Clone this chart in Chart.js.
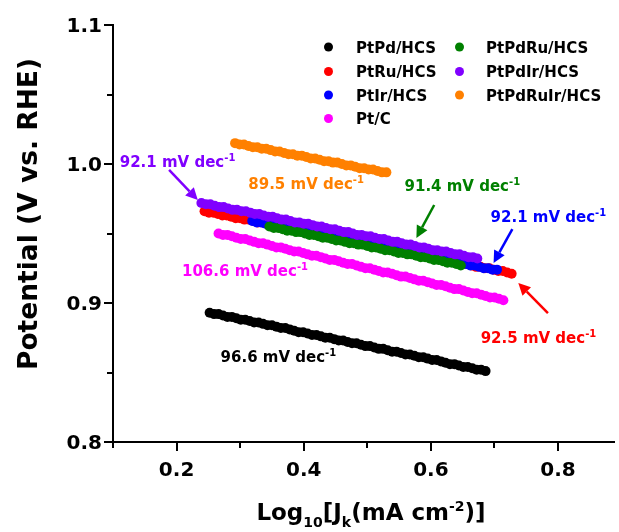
<!DOCTYPE html>
<html>
<head>
<meta charset="utf-8">
<title>Tafel plots</title>
<script src="https://cdn.jsdelivr.net/npm/chart.js@4.4.1/dist/chart.umd.min.js"></script>
<style>
  html, body { margin: 0; padding: 0; background: #fff; overflow: hidden; }
  canvas { display: block; }
</style>
</head>
<body>
<canvas id="tafel" width="619" height="532"></canvas>
<script>
// Tafel regions: log10 of kinetic current density vs. potential (V vs. RHE)
const seriesNames = ['PtPd/HCS', 'PtRu/HCS', 'PtIr/HCS', 'Pt/C', 'PtPdRu/HCS', 'PtPdIr/HCS', 'PtPdRuIr/HCS'];
const tafelSlopes = [96.6, 92.5, 92.1, 106.6, 91.4, 92.1, 89.5]; // mV dec-1

const xTickValues = [0.1, 0.2, 0.3, 0.4, 0.5, 0.6, 0.7, 0.8];
const xTickLabels = ['', '0.2', '', '0.4', '', '0.6', '', '0.8'];
const yTickValues = [0.8, 0.85, 0.9, 0.95, 1.0, 1.05, 1.1];
const yTickLabels = ['0.8', '', '0.9', '', '1.0', '', '1.1'];

const ptpdX = [0.252,0.259,0.266,0.273,0.280,0.287,0.294,0.301,0.308,0.315,0.322,0.329,0.336,0.343,0.350,0.357,0.364,0.371,0.378,0.385,0.392,0.399,0.406,0.413,0.420,0.427,0.434,0.441,0.448,0.455,0.462,0.469,0.476,0.483,0.490,0.497,0.504,0.511,0.518,0.525,0.532,0.539,0.546,0.553,0.560,0.567,0.574,0.581,0.588,0.595,0.602,0.609,0.616,0.623,0.630,0.637,0.644,0.651,0.658,0.665,0.672,0.679,0.686];
const ptpdY = [0.893,0.892,0.892,0.891,0.890,0.890,0.889,0.888,0.888,0.887,0.886,0.886,0.885,0.884,0.884,0.883,0.882,0.882,0.881,0.880,0.879,0.879,0.878,0.877,0.877,0.876,0.875,0.875,0.874,0.873,0.873,0.872,0.871,0.871,0.870,0.869,0.869,0.868,0.867,0.867,0.866,0.865,0.865,0.864,0.863,0.863,0.862,0.861,0.861,0.860,0.859,0.859,0.858,0.857,0.856,0.856,0.855,0.854,0.854,0.853,0.852,0.852,0.851];

const ptruX = [0.244,0.251,0.258,0.265,0.272,0.279,0.286,0.293,0.300,0.307,0.314,0.321,0.328,0.335,0.342,0.349,0.356,0.363,0.370,0.377,0.384,0.391,0.398,0.405,0.412,0.419,0.426,0.433,0.440,0.447,0.454,0.461,0.468,0.475,0.482,0.489,0.496,0.503,0.510,0.517,0.524,0.531,0.538,0.545,0.552,0.559,0.566,0.573,0.580,0.587,0.594,0.601,0.608,0.615,0.622,0.629,0.636,0.643,0.650,0.657,0.664,0.671,0.678,0.685,0.692,0.699,0.706,0.713,0.720,0.727];
const ptruY = [0.966,0.965,0.965,0.964,0.963,0.963,0.962,0.961,0.961,0.960,0.960,0.959,0.958,0.958,0.957,0.956,0.956,0.955,0.954,0.954,0.953,0.952,0.952,0.951,0.950,0.950,0.949,0.949,0.948,0.947,0.947,0.946,0.945,0.945,0.944,0.943,0.943,0.942,0.941,0.941,0.940,0.939,0.939,0.938,0.938,0.937,0.936,0.936,0.935,0.934,0.934,0.933,0.932,0.932,0.931,0.930,0.930,0.929,0.928,0.928,0.927,0.926,0.926,0.925,0.925,0.924,0.923,0.923,0.922,0.921];

const ptirX = [0.319,0.326,0.333,0.340,0.347,0.354,0.361,0.368,0.375,0.382,0.389,0.396,0.403,0.410,0.417,0.424,0.431,0.438,0.445,0.452,0.459,0.466,0.473,0.480,0.487,0.494,0.501,0.508,0.515,0.522,0.529,0.536,0.543,0.550,0.557,0.564,0.571,0.578,0.585,0.592,0.599,0.606,0.613,0.620,0.627,0.634,0.641,0.648,0.655,0.662,0.669,0.676,0.683,0.690,0.697,0.704];
const ptirY = [0.959,0.958,0.958,0.957,0.956,0.956,0.955,0.954,0.954,0.953,0.953,0.952,0.951,0.951,0.950,0.949,0.949,0.948,0.947,0.947,0.946,0.945,0.945,0.944,0.944,0.943,0.942,0.942,0.941,0.940,0.940,0.939,0.938,0.938,0.937,0.936,0.936,0.935,0.935,0.934,0.933,0.933,0.932,0.931,0.931,0.930,0.929,0.929,0.928,0.927,0.927,0.926,0.925,0.925,0.924,0.924];

const ptcX = [0.266,0.273,0.280,0.287,0.294,0.301,0.308,0.315,0.322,0.329,0.336,0.343,0.350,0.357,0.364,0.371,0.378,0.385,0.392,0.399,0.406,0.413,0.420,0.427,0.434,0.441,0.448,0.455,0.462,0.469,0.476,0.483,0.490,0.497,0.504,0.511,0.518,0.525,0.532,0.539,0.546,0.553,0.560,0.567,0.574,0.581,0.588,0.595,0.602,0.609,0.616,0.623,0.630,0.637,0.644,0.651,0.658,0.665,0.672,0.679,0.686,0.693,0.700,0.707,0.714];
const ptcY = [0.950,0.949,0.949,0.948,0.947,0.946,0.946,0.945,0.944,0.943,0.943,0.942,0.941,0.940,0.940,0.939,0.938,0.937,0.937,0.936,0.935,0.934,0.934,0.933,0.932,0.931,0.931,0.930,0.929,0.928,0.928,0.927,0.926,0.925,0.925,0.924,0.923,0.922,0.922,0.921,0.920,0.919,0.919,0.918,0.917,0.916,0.916,0.915,0.914,0.913,0.913,0.912,0.911,0.910,0.910,0.909,0.908,0.907,0.907,0.906,0.905,0.904,0.904,0.903,0.902];

const ptpdruX = [0.346,0.353,0.360,0.367,0.374,0.381,0.388,0.395,0.402,0.409,0.416,0.423,0.430,0.437,0.444,0.451,0.458,0.465,0.472,0.479,0.486,0.493,0.500,0.507,0.514,0.521,0.528,0.535,0.542,0.549,0.556,0.563,0.570,0.577,0.584,0.591,0.598,0.605,0.612,0.619,0.626,0.633,0.640,0.647];
const ptpdruY = [0.955,0.954,0.954,0.953,0.952,0.952,0.951,0.951,0.950,0.949,0.949,0.948,0.947,0.947,0.946,0.945,0.945,0.944,0.943,0.943,0.942,0.942,0.941,0.940,0.940,0.939,0.938,0.938,0.937,0.936,0.936,0.935,0.935,0.934,0.933,0.933,0.932,0.931,0.931,0.930,0.929,0.929,0.928,0.927];

const ptpdirX = [0.239,0.246,0.253,0.260,0.267,0.274,0.281,0.288,0.295,0.302,0.309,0.316,0.323,0.330,0.337,0.344,0.351,0.358,0.365,0.372,0.379,0.386,0.393,0.400,0.407,0.414,0.421,0.428,0.435,0.442,0.449,0.456,0.463,0.470,0.477,0.484,0.491,0.498,0.505,0.512,0.519,0.526,0.533,0.540,0.547,0.554,0.561,0.568,0.575,0.582,0.589,0.596,0.603,0.610,0.617,0.624,0.631,0.638,0.645,0.652,0.659,0.666,0.673];
const ptpdirY = [0.972,0.971,0.971,0.970,0.969,0.969,0.968,0.967,0.967,0.966,0.966,0.965,0.964,0.964,0.963,0.962,0.962,0.961,0.960,0.960,0.959,0.958,0.958,0.957,0.957,0.956,0.955,0.955,0.954,0.953,0.953,0.952,0.951,0.951,0.950,0.949,0.949,0.948,0.948,0.947,0.946,0.946,0.945,0.944,0.944,0.943,0.942,0.942,0.941,0.940,0.940,0.939,0.938,0.938,0.937,0.937,0.936,0.935,0.935,0.934,0.933,0.933,0.932];

const ptpdruirX = [0.292,0.299,0.306,0.313,0.320,0.327,0.334,0.341,0.348,0.355,0.362,0.369,0.376,0.383,0.390,0.397,0.404,0.411,0.418,0.425,0.432,0.439,0.446,0.453,0.460,0.467,0.474,0.481,0.488,0.495,0.502,0.509,0.516,0.523,0.530];
const ptpdruirY = [1.015,1.014,1.014,1.013,1.012,1.012,1.011,1.011,1.010,1.009,1.009,1.008,1.007,1.007,1.006,1.006,1.005,1.004,1.004,1.003,1.002,1.002,1.001,1.001,1.000,0.999,0.999,0.998,0.997,0.997,0.996,0.996,0.995,0.994,0.994];

const seriesX = [ptpdX, ptruX, ptirX, ptcX, ptpdruX, ptpdirX, ptpdruirX];
const seriesY = [ptpdY, ptruY, ptirY, ptcY, ptpdruY, ptpdirY, ptpdruirY];

// ---- styling ----
const seriesColors = ['#000000', '#ff0000', '#0000ff', '#ff00ff', '#008000', '#8000ff', '#ff8000'];
const drawLayer = [0, 4, 3, 0, 2, 1, 0];   // higher layer is painted first (underneath)
const FAMILY = '"DejaVu Sans", "Liberation Sans", sans-serif';
const font = size => `bold ${size}px ${FAMILY}`;

// slope labels: anchor (left, baseline) in data units, optional arrow tail -> head in data units
const slopeNotes = [
  { series: 5, at: [0.1106, 0.9982], arrow: [[0.1882, 0.9957], [0.2334, 0.9741]] },
  { series: 6, at: [0.3128, 0.9817] },
  { series: 4, at: [0.5585, 0.9809], arrow: [[0.6052, 0.9705], [0.5772, 0.9468]] },
  { series: 2, at: [0.6939, 0.9586], arrow: [[0.7281, 0.9532], [0.6986, 0.9288]] },
  { series: 1, at: [0.6783, 0.8709], arrow: [[0.7841, 0.8928], [0.7375, 0.9144]] },
  { series: 3, at: [0.2085, 0.9191] },
  { series: 0, at: [0.2692, 0.8579] }
];

// legend layout (pixels): two columns
const legendLayout = {
  col1: { dotX: 328.5, textX: 356, rows: [47, 71.5, 95, 118.5] },
  col2: { dotX: 459.5, textX: 486, rows: [47, 71.5, 95] }
};

function drawRuns(ctx, runs, x, y) {
  ctx.textAlign = 'left';
  ctx.textBaseline = 'alphabetic';
  let cx = x;
  runs.forEach(r => {
    ctx.font = font(r.size);
    ctx.fillText(r.text, cx, y + (r.shift || 0));
    cx += ctx.measureText(r.text).width;
  });
  return cx - x;
}

function runsWidth(ctx, runs) {
  let w = 0;
  runs.forEach(r => { ctx.font = font(r.size); w += ctx.measureText(r.text).width; });
  return w;
}

function drawArrow(ctx, x1, y1, x2, y2, color) {
  const ang = Math.atan2(y2 - y1, x2 - x1);
  const hl = 12, hw = 6;
  const bx = x2 - hl * Math.cos(ang), by = y2 - hl * Math.sin(ang);
  ctx.strokeStyle = color;
  ctx.lineWidth = 2.5;
  ctx.beginPath();
  ctx.moveTo(x1, y1);
  ctx.lineTo(bx, by);
  ctx.stroke();
  ctx.fillStyle = color;
  ctx.beginPath();
  ctx.moveTo(x2, y2);
  ctx.lineTo(bx + hw * Math.sin(ang), by - hw * Math.cos(ang));
  ctx.lineTo(bx - hw * Math.sin(ang), by + hw * Math.cos(ang));
  ctx.closePath();
  ctx.fill();
}

const decorations = {
  id: 'decorations',
  afterDraw(chart) {
    const { ctx, chartArea: a, scales: { x, y } } = chart;
    ctx.save();

    // outward tick marks, long for labelled ticks
    ctx.strokeStyle = '#000';
    ctx.lineWidth = 2;
    xTickValues.forEach((v, i) => {
      const px = Math.round(x.getPixelForValue(v));
      const len = xTickLabels[i] ? 9 : 6;
      ctx.beginPath();
      ctx.moveTo(px, a.bottom);
      ctx.lineTo(px, a.bottom + len);
      ctx.stroke();
    });
    yTickValues.forEach((v, i) => {
      const py = Math.round(y.getPixelForValue(v));
      const len = yTickLabels[i] ? 9 : 6;
      ctx.beginPath();
      ctx.moveTo(a.left, py);
      ctx.lineTo(a.left - len, py);
      ctx.stroke();
    });

    // slope labels and arrows
    slopeNotes.forEach(n => {
      const c = seriesColors[n.series];
      if (n.arrow) {
        const [t, h] = n.arrow;
        drawArrow(ctx, x.getPixelForValue(t[0]), y.getPixelForValue(t[1]),
                  x.getPixelForValue(h[0]), y.getPixelForValue(h[1]), c);
      }
      ctx.fillStyle = c;
      drawRuns(ctx, [
        { text: tafelSlopes[n.series].toFixed(1) + ' mV dec', size: 15 },
        { text: '-1', size: 10, shift: -6 }
      ], x.getPixelForValue(n.at[0]), y.getPixelForValue(n.at[1]));
    });

    // legend
    const order = [[0, 'col1', 0], [1, 'col1', 1], [2, 'col1', 2], [3, 'col1', 3],
                   [4, 'col2', 0], [5, 'col2', 1], [6, 'col2', 2]];
    order.forEach(([si, col, row]) => {
      const L = legendLayout[col];
      const ry = L.rows[row];
      ctx.fillStyle = seriesColors[si];
      ctx.beginPath();
      ctx.arc(L.dotX, ry, 4.5, 0, Math.PI * 2);
      ctx.fill();
      ctx.fillStyle = '#000';
      ctx.font = font(15);
      ctx.textAlign = 'left';
      ctx.textBaseline = 'alphabetic';
      ctx.fillText(chart.data.datasets[si].label, L.textX, ry + 5.5);
    });

    // axis titles
    ctx.fillStyle = '#000';
    const xTitle = [
      { text: 'Log', size: 23 },
      { text: '10', size: 14, shift: 7 },
      { text: '[J', size: 23 },
      { text: 'k', size: 14, shift: 7 },
      { text: '(mA cm', size: 23 },
      { text: '-2', size: 14, shift: -9 },
      { text: ')]', size: 23 }
    ];
    const xw = runsWidth(ctx, xTitle);
    drawRuns(ctx, xTitle, 371 - xw / 2, 520);

    ctx.translate(37, 214);
    ctx.rotate(-Math.PI / 2);
    ctx.font = font(26.5);
    ctx.textAlign = 'center';
    ctx.textBaseline = 'alphabetic';
    ctx.fillText('Potential (V vs. RHE)', 0, 0);

    ctx.restore();
  }
};

const datasets = seriesNames.map((name, i) => ({
  label: name,
  data: seriesX[i].map((xv, k) => ({ x: xv, y: seriesY[i][k] })),
  backgroundColor: seriesColors[i],
  borderColor: seriesColors[i],
  pointRadius: 5,
  pointHoverRadius: 5,
  pointBorderWidth: 0,
  showLine: false,
  order: drawLayer[i]
}));

new Chart(document.getElementById('tafel'), {
  type: 'scatter',
  data: { datasets },
  options: {
    responsive: false,
    animation: false,
    devicePixelRatio: 1,
    layout: { padding: { top: 25, left: 0, right: 0, bottom: 0 } },
    plugins: { legend: { display: false }, tooltip: { enabled: false } },
    events: [],
    scales: {
      x: {
        type: 'linear',
        min: 0.1,
        max: 0.888,
        afterFit: s => { s.height = 90; },
        afterBuildTicks: s => { s.ticks = xTickValues.map(v => ({ value: v })); },
        border: { display: true, color: '#000', width: 2 },
        grid: { display: true, drawOnChartArea: false, drawTicks: true, tickLength: 9, color: 'rgba(0,0,0,0)' },
        ticks: {
          autoSkip: false, maxRotation: 0, padding: 8, color: '#000',
          font: { family: FAMILY, size: 20, weight: 'bold' },
          callback: (v, i) => xTickLabels[i]
        }
      },
      y: {
        type: 'linear',
        min: 0.8,
        max: 1.1,
        afterFit: s => { s.width = 113; },
        afterBuildTicks: s => { s.ticks = yTickValues.map(v => ({ value: v })); },
        border: { display: true, color: '#000', width: 2 },
        grid: { display: true, drawOnChartArea: false, drawTicks: true, tickLength: 9, color: 'rgba(0,0,0,0)' },
        ticks: {
          autoSkip: false, padding: 2, labelOffset: 2, color: '#000',
          font: { family: FAMILY, size: 20, weight: 'bold' },
          callback: (v, i) => yTickLabels[i]
        }
      }
    }
  },
  plugins: [decorations]
});
</script>
</body>
</html>
